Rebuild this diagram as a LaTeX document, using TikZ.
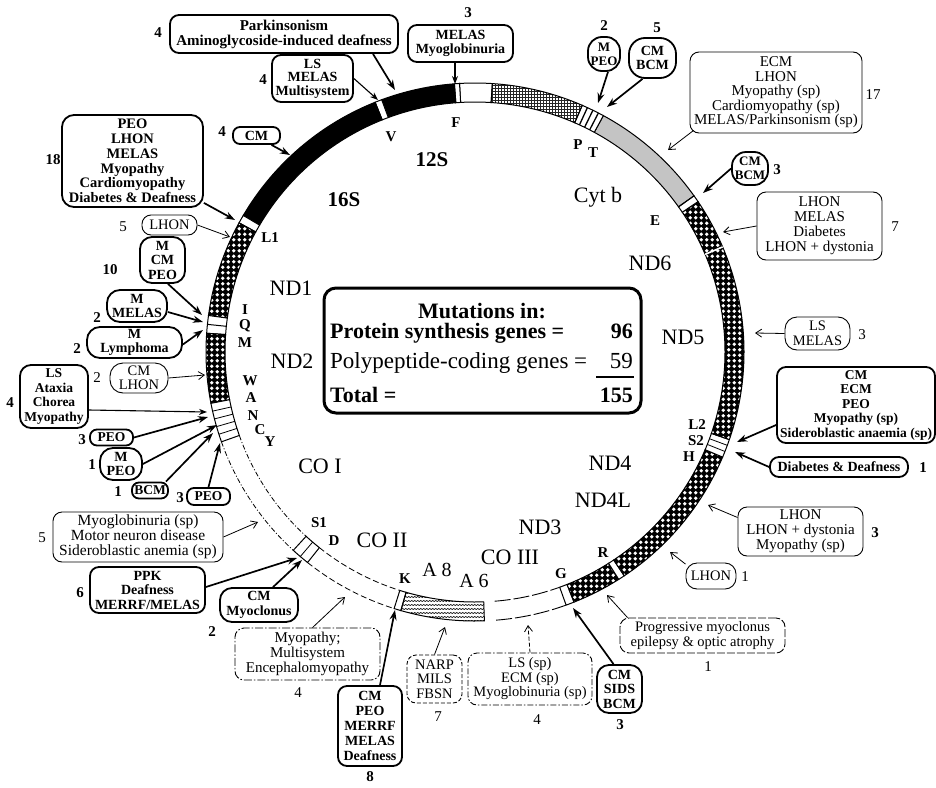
\documentclass[tikz,border=0pt]{standalone}
\usepackage{fontspec}
\setmainfont{Liberation Serif}
\usetikzlibrary{patterns,arrows.meta}
\pgfdeclarepatternformonly{holes}{\pgfqpoint{-1pt}{-1pt}}{\pgfqpoint{6.5pt}{6.5pt}}{\pgfqpoint{5.5pt}{5.5pt}}{\pgfpathcircle{\pgfqpoint{2.75pt}{2.75pt}}{1.9pt}\pgfusepath{fill}}
\pgfdeclarepatternformonly{waves}{\pgfqpoint{-1pt}{-1pt}}{\pgfqpoint{7pt}{5pt}}{\pgfqpoint{6pt}{4pt}}{\pgfsetlinewidth{0.6pt}\pgfpathmoveto{\pgfqpoint{0pt}{2pt}}\pgfpathcurveto{\pgfqpoint{1.5pt}{4pt}}{\pgfqpoint{1.5pt}{0pt}}{\pgfqpoint{3pt}{2pt}}\pgfpathcurveto{\pgfqpoint{4.5pt}{4pt}}{\pgfqpoint{4.5pt}{0pt}}{\pgfqpoint{6pt}{2pt}}\pgfusepath{stroke}}
\pgfdeclarepatternformonly{fdots}{\pgfqpoint{-0.5pt}{-0.5pt}}{\pgfqpoint{2.5pt}{2.5pt}}{\pgfqpoint{2pt}{2pt}}{\pgfpathcircle{\pgfqpoint{1pt}{1pt}}{0.55pt}\pgfusepath{fill}}
\newcommand{\rseg}[3]{\path[#3] (#1:250) arc[start angle=#1,end angle=#2,radius=250] -- (#2:269) arc[start angle=#2,end angle=#1,radius=269] -- cycle;}
\newcommand{\rtick}[2]{\draw[#1] (#2:250) -- (#2:269);}
\newcommand{\rarcs}[3]{\draw[#3] (#1:250) arc[start angle=#1,end angle=#2,radius=250]; \draw[#3] (#1:269) arc[start angle=#1,end angle=#2,radius=269];}
\tikzset{
  bx/.style={draw, rounded corners=9pt, align=center, inner sep=0pt, line width=0.9pt, font=\fontsize{14.5}{14.5}\selectfont},
  bbx/.style={draw, rounded corners=9pt, align=center, inner sep=0pt, line width=1.8pt, font=\fontsize{14}{14.5}\selectfont\bfseries},
  num/.style={inner sep=0pt, font=\fontsize{15}{15}\selectfont},
  bnum/.style={inner sep=0pt, font=\fontsize{15}{15}\selectfont\bfseries},
  ar/.style={-{Straight Barb[length=6pt,width=8pt]}, line width=0.8pt},
  mar/.style={-{Stealth[length=8pt,width=6pt]}, line width=1.1pt},
  bar/.style={-{Stealth[length=10pt,width=7pt]}, line width=1.7pt},
  gene/.style={inner sep=0pt, font=\fontsize{22}{22}\selectfont},
  bgene/.style={inner sep=0pt, font=\fontsize{21}{21}\selectfont\bfseries},
  trna/.style={inner sep=0pt, font=\fontsize{15}{15}\selectfont\bfseries},
  chk/.style={preaction={fill=black}, pattern=holes, pattern color=white, draw=black, line width=1pt},
  blk/.style={fill=black, draw=black, line width=1pt},
  wht/.style={fill=white, draw=black, line width=1pt},
  stp/.style={pattern=fdots, draw=black, line width=1pt},
  grd/.style={pattern=grid, pattern color=black!85, draw=black, line width=1pt},
  wav/.style={pattern=waves, draw=black, line width=1pt},
  ctext/.style={inner sep=0pt, font=\fontsize{22}{22}\selectfont\bfseries},
  ctextr/.style={inner sep=0pt, font=\fontsize{23}{23}\selectfont},
}
\begin{document}
\begin{tikzpicture}[x=1pt,y=-1pt]
\useasboundingbox (0,0) rectangle (936,787);

% ---------------- ring ----------------
\begin{scope}[shift={(475,352)}, yscale=-1]
\rseg{86.3}{93.3}{wht}
\rseg{93.3}{94.4}{wht}
\rseg{94.4}{110.3}{blk}
\rseg{110.3}{111.8}{wht}
\rseg{111.8}{149.5}{blk}
\rseg{149.5}{151.3}{wht}
\rseg{151.3}{172.2}{chk}
\rseg{172.2}{176}{wht}
\rtick{line width=1pt}{174.1}
\rseg{176}{191}{chk}
\rseg{191}{199.5}{wht}
\rtick{line width=0.8pt}{192.7}
\rtick{line width=0.8pt}{194.4}
\rtick{line width=0.8pt}{196.1}
\rtick{line width=0.8pt}{197.8}
\rarcs{199.5}{227.5}{line width=0.8pt, dash pattern=on 5pt off 2pt on 1pt off 2pt}
\rseg{227.5}{231.5}{wht}
\rtick{line width=0.8pt}{229.5}
\rarcs{231.5}{252.5}{line width=0.8pt, dash pattern=on 6pt off 3pt}
\rseg{252.5}{254}{wht}
\rseg{254}{272}{wav}
\rarcs{274.5}{289.8}{line width=0.9pt, dash pattern=on 16pt off 3pt}
\rseg{289.8}{291.6}{wht}
\rseg{291.6}{302.3}{chk}
\rseg{302.3}{303.7}{wht}
\rseg{303.7}{337}{chk}
\rseg{337}{341}{wht}
\rtick{line width=0.8pt}{338.3}
\rtick{line width=0.8pt}{339.7}
\rseg{341}{394}{chk}
\rtick{white, line width=1.6pt}{383}
\rseg{394}{395.5}{wht}
\rseg{395.5}{421.5}{stp}
\rseg{421.5}{426.5}{wht}
\rtick{line width=1.3pt}{422.7}
\rtick{line width=1.3pt}{424}
\rtick{line width=1.3pt}{425.3}
\rseg{426.5}{446.3}{grd}
\end{scope}

% ---------------- labels inside the ring ----------------
\node[bgene] (g16s) at (344,200) {16S};
\node[bgene] (g12s) at (432,160) {12S};
\node[trna] (tV) at (391,137) {V};
\node[trna] (tF) at (456,123) {F};
\node[trna] (tP) at (578,145) {P};
\node[trna] (tT) at (593,153) {T};
\node[gene] (gcyt) at (598,197) {Cyt b};
\node[trna] (tE) at (655,221) {E};
\node[gene] (gnd6) at (650,263) {ND6};
\node[gene] (gnd5) at (683,337) {ND5};
\node[trna] (tL2) at (697,425) {L2};
\node[trna] (tS2) at (696,441) {S2};
\node[trna] (tH) at (689,457) {H};
\node[gene] (gnd4) at (610,463) {ND4};
\node[gene] (gnd4l) at (603,500) {ND4L};
\node[gene] (gnd3) at (540,527) {ND3};
\node[trna] (tR) at (603,553) {R};
\node[trna] (tG) at (561,574) {G};
\node[gene] (gco3) at (510,557) {CO III};
\node[inner sep=0pt, font=\fontsize{20}{20}\selectfont] (ga8) at (437,570) {A 8};
\node[inner sep=0pt, font=\fontsize{20}{20}\selectfont] (ga6) at (474,581) {A 6};
\node[trna] (tK) at (405,579) {K};
\node[gene] (gco2) at (382,540) {CO II};
\node[trna] (tD) at (334,541) {D};
\node[trna] (tS1) at (319,523) {S1};
\node[gene] (gco1) at (320,466) {CO I};
\node[trna] (tY) at (270,442) {Y};
\node[trna] (tC) at (260,430) {C};
\node[trna] (tN) at (253,416) {N};
\node[trna] (tA) at (251,398) {A};
\node[trna] (tW) at (250,381) {W};
\node[trna] (tI) at (245,310) {I};
\node[trna] (tQ) at (245,326) {Q};
\node[trna] (tM) at (245,343) {M};
\node[gene] (gnd1) at (291,288) {ND1};
\node[gene] (gnd2) at (292,361) {ND2};
\node[trna] (tL1) at (270,238) {L1};

% ---------------- centre box ----------------
\node[draw, line width=3pt, rounded corners=12pt, minimum width=317pt, minimum height=125pt, inner sep=0pt] (C) at (482.5,350.5) {};
\node[ctext, anchor=base] (m1) at (482,318) {Mutations in:};
\node[ctext, anchor=base west] (m2) at (330,338) {Protein synthesis genes =};
\node[ctext, anchor=base east] (m3) at (633,338) {96};
\node[ctextr, anchor=base west] (m4) at (330,368) {Polypeptide-coding genes =};
\node[ctextr, anchor=base east] (m5) at (633,368) {59};
\draw[line width=1.5pt] (596,377) -- (634,377);
\node[ctext, anchor=base west] (m6) at (330,402) {Total =};
\node[ctext, anchor=base east] (m7) at (633,402) {155};

% ---------------- disease boxes ----------------
\node[bbx, font=\fontsize{15}{15}\selectfont\bfseries, minimum width=228pt, minimum height=38pt] (B1) at (284,34) {Parkinsonism\\Aminoglycoside-induced deafness};
\node[bbx, font=\fontsize{14}{13.5}\selectfont\bfseries, minimum width=81pt, minimum height=47pt] (B2) at (312.5,78.5) {LS\\MELAS\\Multisystem};
\node[bbx, minimum width=105pt, minimum height=37pt] (B3) at (460.5,43.5) {MELAS\\Myoglobinuria};
\node[bbx, rounded corners=14pt, font=\fontsize{13}{14}\selectfont\bfseries, minimum width=32pt, minimum height=34pt] (B4) at (604,54) {M\\PEO};
\node[bbx, rounded corners=16pt, minimum width=47pt, minimum height=40pt] (B5) at (652.5,58) {CM\\BCM};
\node[bx, font=\fontsize{15}{14.5}\selectfont, minimum width=172pt, minimum height=81pt] (B6) at (776,92.5) {ECM\\LHON\\Myopathy (sp)\\Cardiomyopathy (sp)\\MELAS/Parkinsonism (sp)};
\node[bbx, rounded corners=14pt, font=\fontsize{13}{14}\selectfont\bfseries, minimum width=36pt, minimum height=33pt] (B7) at (750,168.5) {CM\\BCM};
\node[bx, font=\fontsize{15}{15}\selectfont, minimum width=125pt, minimum height=68pt] (B8) at (819.5,226) {LHON\\MELAS\\Diabetes\\LHON + dystonia};
\node[bx, rounded corners=12pt, minimum width=65pt, minimum height=33pt] (B9) at (817.5,333.5) {LS\\MELAS};
\node[bbx, font=\fontsize{13.5}{14.5}\selectfont\bfseries, minimum width=158pt, minimum height=76pt] (B10) at (856,405) {CM\\ECM\\PEO\\Myopathy (sp)\\Sideroblastic anaemia (sp)};
\node[bbx, rounded corners=9pt, minimum width=138pt, minimum height=20pt] (B11) at (839,467) {Diabetes \& Deafness};
\node[bx, font=\fontsize{15}{15}\selectfont, minimum width=125pt, minimum height=49pt] (B12) at (800.5,531.5) {LHON\\LHON + dystonia\\Myopathy (sp)};
\node[bx, rounded corners=11pt, minimum width=50pt, minimum height=26pt] (B13) at (711,576) {LHON};
\node[bx, dash pattern=on 8pt off 2pt, minimum width=165pt, minimum height=35pt] (B14) at (702.5,635.5) {Progressive myoclonus\\epilepsy \& optic atrophy};
\node[bbx, rounded corners=12pt, minimum width=45pt, minimum height=48pt] (B15) at (619.5,689) {CM\\SIDS\\BCM};
\node[bx, dash pattern=on 6pt off 2pt on 1.5pt off 2pt, minimum width=124pt, minimum height=52pt] (B16) at (530,679) {LS (sp)\\ECM (sp)\\Myoglobinuria (sp)};
\node[bx, dash pattern=on 4pt off 2pt, minimum width=55pt, minimum height=48pt] (B17) at (434.5,679) {NARP\\MILS\\FBSN};
\node[bbx, font=\fontsize{14}{15}\selectfont\bfseries, minimum width=64pt, minimum height=80pt] (B18) at (370,726) {CM\\PEO\\MERRF\\MELAS\\Deafness};
\node[bx, dash pattern=on 8pt off 2pt on 1.5pt off 2pt, font=\fontsize{15}{15}\selectfont, minimum width=145pt, minimum height=52pt] (B19) at (307.5,654) {Myopathy;\\Multisystem\\Encephalomyopathy};
\node[bbx, rounded corners=12pt, minimum width=78pt, minimum height=34pt] (B20) at (259,605) {CM\\Myoclonus};
\node[bbx, minimum width=115pt, minimum height=46pt] (B21) at (147.5,590) {PPK\\Deafness\\MERRF/MELAS};
\node[bx, font=\fontsize{15.5}{15}\selectfont, minimum width=170pt, minimum height=50pt] (B22) at (138,537) {Myoglobinuria (sp)\\Motor neuron disease\\Sideroblastic anemia (sp)};
\node[bbx, rounded corners=7pt, font=\fontsize{13.5}{14}\selectfont\bfseries, minimum width=43pt, minimum height=17pt] (B23) at (208.5,496.5) {PEO};
\node[bbx, rounded corners=7pt, font=\fontsize{13.5}{14}\selectfont\bfseries, minimum width=36pt, minimum height=16pt] (B24) at (150,490.5) {BCM};
\node[bbx, rounded corners=13pt, minimum width=42pt, minimum height=32pt] (B25) at (121,464) {M\\PEO};
\node[bbx, rounded corners=7pt, font=\fontsize{13.5}{14}\selectfont\bfseries, minimum width=43pt, minimum height=16pt] (B26) at (111.5,437.5) {PEO};
\node[bbx, rounded corners=11pt, font=\fontsize{13.5}{14.5}\selectfont\bfseries, minimum width=68pt, minimum height=63pt] (B27) at (54,396.5) {LS\\Ataxia\\Chorea\\Myopathy};
\node[bx, rounded corners=13pt, minimum width=58pt, minimum height=30pt] (B28) at (139,378) {CM\\LHON};
\node[bbx, rounded corners=13pt, minimum width=95pt, minimum height=31pt] (B29) at (134.5,342.5) {M\\Lymphoma};
\node[bbx, rounded corners=13pt, minimum width=60pt, minimum height=32pt] (B30) at (137,306) {M\\MELAS};
\node[bbx, rounded corners=12pt, minimum width=45pt, minimum height=46pt] (B31) at (162.5,260) {M\\CM\\PEO};
\node[bx, rounded corners=9pt, minimum width=55pt, minimum height=20pt] (B32) at (169.5,225) {LHON};
\node[bbx, rounded corners=12pt, font=\fontsize{14.5}{14.8}\selectfont\bfseries, minimum width=141pt, minimum height=92pt] (B33) at (132.5,161) {PEO\\LHON\\MELAS\\Myopathy\\Cardiomyopathy\\Diabetes \& Deafness};
\node[bbx, rounded corners=7pt, minimum width=47pt, minimum height=17pt] (B34) at (256.5,135.5) {CM};

% ---------------- counts ----------------
\node[bnum] (n1) at (158,33) {4};
\node[bnum] (n2) at (263,80) {4};
\node[bnum] (n3) at (468,13) {3};
\node[bnum] (n4) at (604,26) {2};
\node[bnum] (n5) at (657,28) {5};
\node[num] (n6) at (873,95) {17};
\node[bnum] (n7) at (777,170) {3};
\node[num] (n8) at (895,227) {7};
\node[num] (n9) at (862,335) {3};
\node[bnum] (n11) at (923,468) {1};
\node[bnum] (n12) at (875,533) {3};
\node[num] (n13) at (745,577) {1};
\node[num] (n14) at (708,667) {1};
\node[bnum] (n15) at (620,725) {3};
\node[num] (n16) at (537,720) {4};
\node[num] (n17) at (438,717) {7};
\node[bnum] (n18) at (370,777) {8};
\node[num] (n19) at (298,693) {4};
\node[bnum] (n20) at (212,632) {2};
\node[bnum] (n21) at (80,593) {6};
\node[num] (n22) at (42,538) {5};
\node[bnum] (n23) at (180,498) {3};
\node[bnum] (n24) at (118,492) {1};
\node[bnum] (n25) at (92,465) {1};
\node[bnum] (n26) at (82,440) {3};
\node[bnum] (n27) at (10,403) {4};
\node[num] (n28) at (97,378) {2};
\node[bnum] (n29) at (77,349) {2};
\node[bnum] (n30) at (97,318) {2};
\node[bnum] (n31) at (110,270) {10};
\node[num] (n32) at (123,227) {5};
\node[bnum] (n33) at (53,160) {18};
\node[bnum] (n34) at (222,132) {4};

% ---------------- arrow targets on the ring ----------------
\coordinate (t1) at (395,90);
\coordinate (t2) at (378,100);
\coordinate (t3) at (455,84);
\coordinate (t4) at (598,103);
\coordinate (t5) at (607,107);
\coordinate (t6) at (668,150);
\coordinate (t7) at (703,193);
\coordinate (t8) at (723,232);
\coordinate (t9) at (755,333);
\coordinate (t10) at (737,442);
\coordinate (t11) at (735,452);
\coordinate (t12) at (708,505);
\coordinate (t13) at (670,552);
\coordinate (t14) at (607,595);
\coordinate (t15) at (573,608);
\coordinate (t16) at (528,625);
\coordinate (t17) at (445,627);
\coordinate (t18) at (395,610);
\coordinate (t19) at (345,597);
\coordinate (t20) at (302,560);
\coordinate (t21) at (297,558);
\coordinate (t22) at (258,522);
\coordinate (t23) at (220,443);
\coordinate (t24) at (213,433);
\coordinate (t25) at (217,425);
\coordinate (t26) at (208,417);
\coordinate (t27) at (207,412);
\coordinate (t28) at (205,375);
\coordinate (t29) at (203,330);
\coordinate (t30) at (203,322);
\coordinate (t31) at (202,315);
\coordinate (t32) at (230,237);
\coordinate (t33) at (235,220);
\coordinate (t34) at (290,155);

% ---------------- arrows ----------------
\draw[bar] ([xshift=89pt]B1.south) -- (t1);
\draw[mar] (B2.east) -- (t2);
\draw[mar] ([xshift=-5.5pt]B3.south) -- (t3);
\draw[bar] ([xshift=4pt]B4.south) -- (t4);
\draw[bar] ([xshift=-10pt]B5.south) -- (t5);
\draw[ar] ([xshift=4pt,yshift=3pt]B6.south west) -- (t6);
\draw[bar] (B7.west) -- (t7);
\draw[ar] (B8.west) -- (t8);
\draw[ar] (B9.west) -- (t9);
\draw[bar] ([yshift=-20pt]B10.west) -- (t10);
\draw[bar] (B11.west) -- (t11);
\draw[ar] ([yshift=14pt]B12.west) -- (t12);
\draw[ar] (B13.155) -- (t13);
\draw[ar] ([xshift=-75pt]B14.north) -- (t14);
\draw[bar] ([xshift=-6pt]B15.north) -- (t15);
\draw[ar, dash pattern=on 4pt off 2pt] (B16.north) -- (t16);
\draw[ar] (B17.north) -- (t17);
\draw[bar] ([xshift=10pt]B18.north) -- (t18);
\draw[ar] ([xshift=5pt]B19.north) -- (t19);
\draw[bar] ([xshift=14pt]B20.north) -- (t20);
\draw[bar] ([yshift=3pt]B21.east) -- (t21);
\draw[ar] (B22.east) -- (t22);
\draw[bar] (B23.north) -- (t23);
\draw[bar] ([xshift=-3pt]B24.north east) -- (t24);
\draw[bar] (B25.east) -- (t25);
\draw[bar] (B26.east) -- (t26);
\draw[mar] ([yshift=-13.5pt]B27.east) -- (t27);
\draw[ar] (B28.east) -- (t28);
\draw[bar] ([yshift=-2pt]B29.east) -- (t29);
\draw[bar] ([yshift=-6pt]B30.east) -- (t30);
\draw[bar] ([xshift=5.5pt]B31.south) -- (t31);
\draw[ar] (B32.east) -- (t32);
\draw[bar] ([yshift=5pt]B33.south east) -- (t33);
\draw[bar] ([xshift=15pt]B34.south) -- (t34);
\end{tikzpicture}
\end{document}
